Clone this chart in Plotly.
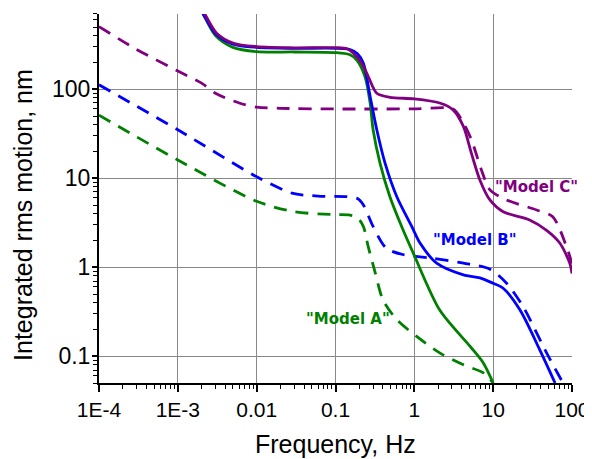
import plotly.graph_objects as go

# Model C (purple)
c_solid_x = [0.0019, 0.0022, 0.0031, 0.0051, 0.01, 0.03, 0.1, 0.14, 0.169, 0.215, 0.261, 0.334, 0.49, 1, 2.1, 3.1, 4.2, 5.3, 6.8, 9.1, 13.4, 29, 47.6, 70, 94, 100]
c_solid_y = [900, 700, 426, 328, 301, 292, 293, 285, 253, 196, 138, 90, 81, 78, 70, 58.6, 38, 19, 9.5, 5.7, 4.2, 3.4, 2.6, 1.87, 1.1, 0.85]
c_dash_x = [1e-4, 3e-4, 1e-3, 2e-3, 3e-3, 6e-3, 0.01, 0.02, 0.1, 1, 3.1, 4, 5.3, 7.1, 9.1, 14.8, 35.5, 57, 85, 100]
c_dash_y = [505, 280, 160, 117, 90, 70, 63, 61, 60, 60, 60, 45, 27, 12.4, 7.4, 5.7, 4.4, 3.7, 1.71, 1.1]

# Model B (blue)
b_solid_x = [0.0018, 0.0021, 0.003, 0.005, 0.01, 0.03, 0.1, 0.15, 0.19, 0.226, 0.275, 0.334, 0.425, 0.6, 0.93, 1.18, 1.92, 4.2, 6.8, 10, 13.4, 21.9, 39, 61]
b_solid_y = [900, 700, 420, 320, 295, 288, 288, 280, 250, 196, 83, 35, 14.8, 6.2, 2.86, 1.87, 1.11, 0.82, 0.76, 0.66, 0.58, 0.33, 0.118, 0.05]
b_dash_x = [1e-4, 1e-3, 0.01, 0.028, 0.06, 0.14, 0.19, 0.226, 0.30, 0.44, 0.73, 1.6, 4.2, 9.1, 14.8, 24, 47.6, 77]
b_dash_y = [112, 35, 10.4, 6.8, 6.3, 6.2, 5.9, 5.0, 2.87, 1.64, 1.38, 1.27, 1.11, 0.95, 0.66, 0.36, 0.109, 0.05]

# Model A (green)
a_solid_x = [0.0018, 0.0021, 0.003, 0.005, 0.01, 0.03, 0.1, 0.15, 0.186, 0.237, 0.275, 0.30, 0.367, 0.49, 0.69, 0.97, 2.1, 5.1, 7.5, 10]
a_solid_y = [900, 700, 400, 295, 264, 262, 258, 245, 213, 138, 70, 35, 14.8, 6.2, 2.87, 1.44, 0.33, 0.129, 0.084, 0.05]
a_dash_x = [1e-4, 1e-3, 0.01, 0.03, 0.094, 0.153, 0.19, 0.226, 0.26, 0.32, 0.40, 0.6, 1.07, 2.1, 4.2, 7.5, 10]
a_dash_y = [51, 16, 5.5, 4.2, 3.9, 3.85, 3.6, 2.86, 1.7, 0.86, 0.43, 0.257, 0.167, 0.109, 0.080, 0.065, 0.05]

x_tickvals = [1e-4, 1e-3, 0.01, 0.1, 1, 10, 100]
x_ticktext = ["1E-4", "1E-3", "0.01", "0.1", "1", "10", "100"]
y_tickvals = [0.1, 1, 10, 100]
y_ticktext = ["0.1", "1", "10", "100"]

GREEN = "#008000"
BLUE = "#0000FF"
PURPLE = "#800080"
DASH = "13px,9px"
LW = 2.8

fig = go.Figure()
for x, y, col in [(a_dash_x, a_dash_y, GREEN), (b_dash_x, b_dash_y, BLUE), (c_dash_x, c_dash_y, PURPLE)]:
    fig.add_trace(go.Scatter(x=x, y=y, mode="lines", line=dict(color=col, width=LW, dash=DASH, shape="spline", smoothing=0.8)))
for x, y, col in [(a_solid_x, a_solid_y, GREEN), (b_solid_x, b_solid_y, BLUE), (c_solid_x, c_solid_y, PURPLE)]:
    fig.add_trace(go.Scatter(x=x, y=y, mode="lines", line=dict(color=col, width=LW, shape="spline", smoothing=0.8)))

lab_font = "DejaVu Sans"
fig.add_annotation(x=-0.84, y=-0.58, xref="x", yref="y", text='<b>"Model A"</b>', showarrow=False,
                   font=dict(family=lab_font, size=15, color=GREEN))
fig.add_annotation(x=0.77, y=0.31, xref="x", yref="y", text='<b>"Model B"</b>', showarrow=False,
                   font=dict(family=lab_font, size=15, color=BLUE))
fig.add_annotation(x=1.555, y=0.906, xref="x", yref="y", text='<b>"Model C"</b>', showarrow=False,
                   font=dict(family=lab_font, size=15, color=PURPLE))

SANS = "Arial, Liberation Sans, sans-serif"
title_font = dict(family=SANS, size=25, color="black")
# plot area: 473 x 369 px; page body has an 8px margin
fig.add_annotation(x=0.499, y=-0.165, xref="paper", yref="paper", text="Frequency, Hz", showarrow=False,
                   xanchor="center", yanchor="middle", font=title_font)
fig.add_annotation(x=-0.161, y=0.455, xref="paper", yref="paper", text="Integrated rms motion, nm", showarrow=False,
                   xanchor="center", yanchor="middle", textangle=-90, font=title_font)

minor = dict(ticks="outside", ticklen=4, tickwidth=1, tickcolor="black", showgrid=False, dtick="D1")
fig.update_xaxes(type="log", range=[-4, 2], tickvals=x_tickvals, ticktext=x_ticktext, automargin=False,
                 ticklabeloverflow="allow",
                 showline=True, linecolor="black", linewidth=2, ticks="outside", ticklen=7, tickwidth=2,
                 tickcolor="black", showgrid=True, gridcolor="#888888", gridwidth=1, zeroline=False,
                 tickfont=dict(family=SANS, size=21, color="black"), minor=minor)
fig.update_yaxes(type="log", range=[-1.301, 2.845], tickvals=y_tickvals, ticktext=y_ticktext, automargin=False,
                 ticklabeloverflow="allow", ticklabelstandoff=-3,
                 showline=True, linecolor="black", linewidth=2, ticks="outside", ticklen=5, tickwidth=2,
                 tickcolor="black", showgrid=True, gridcolor="#888888", gridwidth=1, zeroline=False,
                 tickfont=dict(family=SANS, size=23, color="black"), minor=minor)

fig.update_layout(width=584, height=451, margin=dict(l=91, r=20, t=6, b=76),
                  plot_bgcolor="white", paper_bgcolor="white", showlegend=False)
fig.write_html("out.html")
